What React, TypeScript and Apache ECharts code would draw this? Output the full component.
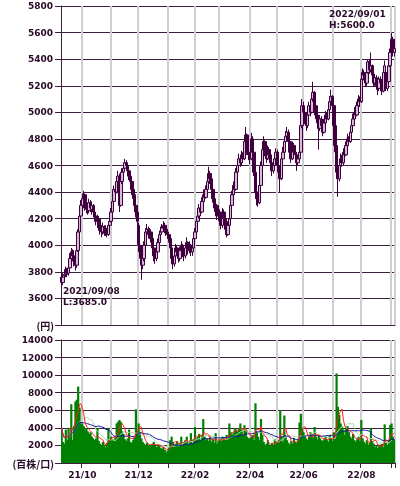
import React, { useEffect, useRef } from "react";
import * as echarts from "echarts";

// [open, close, low, high]
type C = [number, number, number, number];

const sep21: C[] = [
  [3760, 3720, 3685, 3790], [3720, 3760, 3700, 3790], [3770, 3780, 3740, 3820], [3780, 3800, 3760, 3840],
  [3810, 3790, 3760, 3830], [3790, 3830, 3770, 3870], [3830, 3900, 3810, 3940], [3900, 3950, 3870, 3980],
  [3960, 3920, 3890, 3970], [3920, 3880, 3840, 3940], [3890, 3850, 3810, 3900], [3850, 3960, 3830, 3980],
  [3960, 4100, 3950, 4120], [4100, 4220, 4080, 4250], [4220, 4300, 4200, 4340],
];
const oct21: C[] = [
  [4300, 4350, 4280, 4390], [4350, 4380, 4320, 4410], [4380, 4280, 4260, 4390], [4270, 4300, 4240, 4330],
  [4300, 4260, 4230, 4320], [4260, 4320, 4240, 4350], [4320, 4280, 4250, 4340], [4270, 4300, 4230, 4330],
  [4300, 4250, 4210, 4310], [4250, 4220, 4180, 4270], [4220, 4180, 4150, 4240], [4180, 4200, 4130, 4230],
  [4200, 4150, 4110, 4220], [4150, 4120, 4080, 4170], [4120, 4100, 4060, 4150], [4100, 4140, 4080, 4170],
  [4140, 4090, 4070, 4150], [4090, 4120, 4070, 4150], [4120, 4080, 4060, 4130], [4080, 4150, 4070, 4170],
  [4150, 4180, 4130, 4220],
];
const nov21: C[] = [
  [4180, 4250, 4170, 4280], [4250, 4330, 4240, 4360], [4330, 4420, 4320, 4450], [4420, 4400, 4370, 4440],
  [4400, 4480, 4390, 4510], [4480, 4520, 4460, 4560], [4520, 4300, 4250, 4540], [4300, 4480, 4290, 4500],
  [4480, 4550, 4460, 4580], [4550, 4580, 4520, 4620], [4580, 4620, 4560, 4650], [4620, 4600, 4570, 4640],
  [4600, 4560, 4530, 4620], [4560, 4520, 4490, 4580], [4520, 4480, 4440, 4540], [4480, 4420, 4400, 4500],
  [4420, 4380, 4350, 4440], [4380, 4300, 4270, 4400], [4300, 4250, 4210, 4320], [4250, 4180, 4150, 4270],
];
const dec21: C[] = [
  [4150, 4000, 3980, 4170], [4000, 3950, 3900, 4050], [3950, 3850, 3740, 3960], [3850, 3900, 3820, 3940],
  [3900, 4000, 3880, 4030], [4000, 4100, 3990, 4130], [4100, 4120, 4070, 4160], [4120, 4080, 4050, 4140],
  [4080, 4100, 4050, 4130], [4100, 4050, 4020, 4120], [4050, 3980, 3950, 4070], [3980, 3920, 3880, 4000],
  [3920, 3900, 3860, 3950], [3900, 3950, 3880, 3980], [3950, 4020, 3930, 4050], [4020, 4080, 4010, 4110],
  [4080, 4100, 4060, 4140], [4100, 4130, 4080, 4160], [4130, 4150, 4100, 4180], [4150, 4120, 4090, 4170],
  [4120, 4100, 4070, 4140], [4100, 4080, 4050, 4120],
];
const jan22: C[] = [
  [4080, 4050, 4020, 4100], [4050, 3980, 3950, 4060], [3980, 3900, 3870, 3990], [3900, 3860, 3820, 3920],
  [3860, 3920, 3840, 3950], [3920, 3980, 3900, 4010], [3980, 3950, 3920, 4000], [3950, 3900, 3870, 3970],
  [3900, 3960, 3880, 3990], [3960, 4000, 3940, 4030], [4000, 3940, 3910, 4010], [3940, 3920, 3880, 3960],
  [3920, 3980, 3900, 4000], [3980, 4020, 3960, 4060], [4020, 3960, 3930, 4030], [3960, 4000, 3940, 4030],
  [4000, 3950, 3920, 4010], [3950, 3980, 3920, 4010], [3980, 4050, 3960, 4080],
];
const feb22: C[] = [
  [4050, 4100, 4030, 4130], [4100, 4180, 4090, 4210], [4180, 4220, 4150, 4250], [4220, 4280, 4200, 4310],
  [4280, 4250, 4220, 4300], [4250, 4330, 4240, 4360], [4330, 4380, 4310, 4420], [4380, 4360, 4330, 4400],
  [4360, 4420, 4350, 4450], [4420, 4480, 4400, 4510], [4480, 4540, 4470, 4590], [4540, 4500, 4460, 4560],
  [4500, 4420, 4380, 4510], [4420, 4350, 4320, 4430], [4350, 4280, 4250, 4370], [4280, 4300, 4240, 4330],
  [4300, 4220, 4190, 4310], [4220, 4250, 4180, 4280],
];
const mar22: C[] = [
  [4250, 4200, 4170, 4270], [4200, 4150, 4120, 4230], [4150, 4250, 4130, 4280], [4250, 4200, 4170, 4270],
  [4200, 4120, 4090, 4220], [4120, 4080, 4060, 4150], [4080, 4150, 4070, 4180], [4150, 4200, 4130, 4230],
  [4200, 4300, 4190, 4330], [4300, 4380, 4290, 4410], [4380, 4450, 4370, 4480], [4450, 4420, 4390, 4470],
  [4420, 4550, 4410, 4580], [4550, 4600, 4530, 4640], [4600, 4650, 4580, 4690], [4650, 4620, 4590, 4670],
  [4620, 4680, 4600, 4710], [4680, 4650, 4620, 4700], [4650, 4780, 4640, 4810], [4780, 4830, 4760, 4890],
  [4830, 4700, 4680, 4840], [4700, 4680, 4640, 4730],
];
const apr22: C[] = [
  [4680, 4650, 4610, 4700], [4650, 4800, 4640, 4845], [4800, 4700, 4680, 4820], [4700, 4550, 4520, 4710],
  [4550, 4400, 4370, 4560], [4400, 4350, 4300, 4420], [4350, 4320, 4290, 4380], [4320, 4450, 4310, 4470],
  [4450, 4600, 4440, 4630], [4600, 4720, 4590, 4750], [4720, 4780, 4700, 4820], [4780, 4700, 4670, 4790],
  [4700, 4650, 4620, 4720], [4650, 4720, 4640, 4750], [4720, 4680, 4650, 4740], [4680, 4620, 4590, 4700],
  [4620, 4560, 4520, 4640], [4560, 4600, 4540, 4630], [4600, 4650, 4580, 4680], [4650, 4700, 4630, 4730],
];
const may22: C[] = [
  [4700, 4600, 4570, 4720], [4600, 4550, 4510, 4630], [4550, 4500, 4400, 4580], [4500, 4650, 4490, 4680],
  [4650, 4700, 4630, 4740], [4700, 4780, 4690, 4810], [4780, 4820, 4760, 4860], [4820, 4850, 4790, 4890],
  [4850, 4780, 4750, 4870], [4780, 4700, 4670, 4790], [4700, 4650, 4620, 4720], [4650, 4750, 4640, 4780],
  [4750, 4700, 4670, 4770], [4700, 4680, 4640, 4720], [4680, 4620, 4560, 4700], [4620, 4650, 4600, 4680],
  [4650, 4700, 4630, 4740], [4700, 4900, 4690, 4930], [4900, 5050, 4880, 5100],
];
const jun22: C[] = [
  [5050, 5000, 4960, 5080], [5000, 4950, 4910, 5020], [4950, 4900, 4860, 4970], [4900, 4980, 4880, 5010],
  [4980, 5050, 4960, 5080], [5050, 5000, 4970, 5070], [5000, 5100, 4990, 5140], [5100, 5150, 5080, 5230],
  [5150, 5050, 5020, 5160], [5050, 4980, 4950, 5060], [4980, 4920, 4880, 5000], [4920, 4880, 4720, 4940],
  [4880, 4950, 4860, 4980], [4950, 4900, 4870, 4970], [4900, 4850, 4820, 4920], [4850, 4920, 4840, 4950],
  [4920, 4980, 4900, 5010], [4980, 4950, 4920, 5000], [4950, 5020, 4940, 5050], [5020, 5080, 5000, 5120],
  [5080, 5120, 5060, 5170], [5120, 5050, 5020, 5130],
];
const jul22: C[] = [
  [5050, 4900, 4870, 5060], [4900, 4750, 4700, 4910], [4750, 4550, 4500, 4760], [4550, 4500, 4365, 4580],
  [4500, 4600, 4480, 4630], [4600, 4650, 4580, 4690], [4650, 4620, 4590, 4680], [4620, 4700, 4600, 4730],
  [4700, 4680, 4650, 4730], [4680, 4750, 4670, 4780], [4750, 4800, 4730, 4840], [4800, 4780, 4750, 4820],
  [4780, 4850, 4770, 4880], [4850, 4900, 4830, 4940], [4900, 4950, 4880, 4990], [4950, 5000, 4930, 5040],
  [5000, 4980, 4950, 5030], [4980, 5050, 4970, 5080], [5050, 5100, 5030, 5130], [5100, 5080, 5040, 5120],
];
const aug22: C[] = [
  [5080, 5250, 5070, 5290], [5250, 5300, 5230, 5330], [5300, 5280, 5240, 5320], [5280, 5220, 5190, 5300],
  [5220, 5300, 5200, 5330], [5300, 5380, 5290, 5400], [5380, 5320, 5290, 5400], [5320, 5350, 5300, 5450],
  [5350, 5280, 5250, 5360], [5280, 5220, 5190, 5300], [5220, 5260, 5200, 5290], [5260, 5200, 5170, 5280],
  [5200, 5180, 5130, 5220], [5180, 5250, 5160, 5270], [5250, 5220, 5190, 5270], [5220, 5160, 5130, 5240],
  [5160, 5300, 5150, 5330], [5300, 5350, 5290, 5390], [5300, 5180, 5160, 5320], [5180, 5230, 5160, 5250],
  [5230, 5350, 5220, 5380], [5350, 5450, 5340, 5480],
];
const sep22: C[] = [[5450, 5550, 5430, 5600], [5550, 5450, 5420, 5570], [5450, 5480, 5420, 5520]];

// volume (百株)
const volSep21 = [4000, 2400, 2200, 3800, 2600, 4000, 3000, 6700, 2600, 4200, 7000, 7200, 8700, 6300, 4500];
const volOct21 = [4500, 4200, 3800, 4000, 3600, 3300, 3500, 3000, 2800, 2600, 2800, 4000, 2500, 2200, 2000, 2400, 2100, 1800, 2300, 4000, 2600];
const volNov21 = [3000, 2700, 2500, 2900, 4500, 4700, 4900, 4700, 3600, 3300, 2700, 2500, 2800, 3800, 2400, 2300, 2600, 3000, 6100, 3500];
const volDec21 = [4500, 3500, 2800, 2400, 2200, 2000, 2300, 2100, 1900, 2000, 2200, 2400, 2000, 1800, 1900, 2100, 1700, 1600, 1800, 1500, 1200, 1400];
const volJan22 = [1800, 2600, 3000, 2400, 2000, 2200, 2500, 1900, 2300, 3000, 2000, 2400, 2600, 3000, 2000, 2400, 3400, 2200, 2700];
const volFeb22 = [4100, 2800, 3000, 3300, 2600, 3200, 5000, 3000, 2600, 2800, 2500, 3000, 2400, 2700, 2300, 3400, 2200, 2500];
const volMar22 = [2700, 2500, 3000, 2800, 2600, 3200, 2900, 4500, 3500, 3200, 3400, 4000, 3800, 3600, 4000, 4500, 3800, 3200, 4300, 3600, 3000, 2800];
const volApr22 = [2800, 3000, 3200, 2600, 6800, 3500, 3000, 2600, 5000, 3200, 2400, 2000, 2200, 2600, 2100, 1900, 2300, 2000, 2700, 2400];
const volMay22 = [2300, 2600, 6000, 3000, 2400, 5400, 3000, 2600, 2300, 2100, 2500, 2200, 2800, 2400, 2300, 2600, 4600, 5600, 4000];
const volJun22 = [3500, 3000, 2800, 2600, 3000, 3500, 3200, 2900, 4100, 3000, 2700, 3200, 2800, 2600, 2500, 2700, 3000, 2600, 2400, 3200, 2800, 2500];
const volJul22 = [3500, 2800, 10200, 6400, 5500, 4500, 4100, 3800, 3200, 4000, 4200, 3500, 3000, 2800, 3300, 2600, 2400, 2700, 3000, 2500];
const volAug22 = [4900, 2800, 2400, 2200, 2600, 2000, 2300, 4000, 2500, 2200, 1800, 2000, 1700, 2100, 1900, 2200, 1800, 4400, 2300, 2000, 2600, 4300];
const volSep22 = [4500, 3000, 2700];

const monthKeys = ["21/09", "21/10", "21/11", "21/12", "22/01", "22/02", "22/03", "22/04", "22/05", "22/06", "22/07", "22/08", "22/09"];
const monthCandles = [sep21, oct21, nov21, dec21, jan22, feb22, mar22, apr22, may22, jun22, jul22, aug22, sep22];
const monthVolumes = [volSep21, volOct21, volNov21, volDec21, volJan22, volFeb22, volMar22, volApr22, volMay22, volJun22, volJul22, volAug22, volSep22];
const labeledMonths = ["21/10", "21/12", "22/02", "22/04", "22/06", "22/08"];

const TXT = "#2a0a2a";
const DARK = "#3f1f3f";
const GREY = "#cfcfcf";
const FONT = '"DejaVu Sans", sans-serif';

function movingAvg(arr: number[], n: number): number[] {
  return arr.map((_, i) => {
    const s = Math.max(0, i - n + 1);
    let sum = 0;
    for (let k = s; k <= i; k++) sum += arr[k];
    return Math.round(sum / (i - s + 1));
  });
}

export default function App() {
  const ref = useRef<HTMLDivElement>(null);
  useEffect(() => {
    if (!ref.current) return;
    const chart = echarts.init(ref.current, null, { renderer: "svg" });

    const categories: string[] = [];
    const candles: C[] = [];
    const volumes: number[] = [];
    const monthStart = new Set<number>();
    const labelIdx = new Set<number>();
    monthKeys.forEach((key, m) => {
      monthCandles[m].forEach((c, k) => {
        const idx = categories.length;
        if (k === 0 && m > 0) monthStart.add(idx);
        if (k === 0 && labeledMonths.includes(key)) labelIdx.add(idx);
        categories.push(key + "/" + (k + 1));
        candles.push(c);
        volumes.push(monthVolumes[m][k]);
      });
    });
    const ma5 = movingAvg(volumes, 5);
    const ma13 = movingAvg(volumes, 13);
    const ma25 = movingAvg(volumes, 25);

    const splitX = { show: true, interval: (i: number) => monthStart.has(i), lineStyle: { color: GREY, width: 2 } };
    const yLabel = { color: TXT, fontFamily: FONT, fontWeight: "bold" as const, fontSize: 9, margin: 8 };
    const txt = (text: string, x: number, y: number, align = "left", font = `bold 9px ${FONT}`) => ({
      type: "text",
      x,
      y,
      z: 100,
      silent: true,
      style: { text, fill: TXT, font, textAlign: align, textVerticalAlign: "middle", verticalAlign: "middle", align },
    });

    chart.setOption({
      animation: false,
      grid: [
        { left: 61, top: 6, width: 334, height: 319 },
        { left: 61, top: 340, width: 334, height: 123 },
      ],
      xAxis: [
        {
          type: "category", gridIndex: 0, data: categories, boundaryGap: true,
          axisLine: { lineStyle: { color: DARK, width: 1 } },
          axisTick: { show: false }, axisLabel: { show: false }, splitLine: splitX,
        },
        {
          type: "category", gridIndex: 1, data: categories, boundaryGap: true,
          axisLine: { lineStyle: { color: DARK, width: 1 } },
          axisTick: { show: true, interval: (i: number) => monthStart.has(i), length: 5, lineStyle: { color: DARK } },
          axisLabel: {
            interval: (i: number) => labelIdx.has(i),
            formatter: (v: string) => v.slice(0, 5),
            color: TXT, fontFamily: FONT, fontWeight: "bold", fontSize: 9, margin: 7,
          },
          splitLine: splitX,
        },
      ],
      yAxis: [
        {
          type: "value", gridIndex: 0, min: 3400, max: 5800, interval: 200,
          axisLine: { show: true, lineStyle: { color: DARK } },
          axisTick: { show: true, length: 6, lineStyle: { color: DARK } },
          axisLabel: { ...yLabel, formatter: (v: number) => (v === 3400 ? "" : String(v)) },
          splitLine: { lineStyle: { color: DARK, width: 1 } },
        },
        {
          type: "value", gridIndex: 1, min: 0, max: 14000, interval: 2000,
          axisLine: { show: true, lineStyle: { color: DARK } },
          axisTick: { show: true, length: 6, lineStyle: { color: DARK } },
          axisLabel: { ...yLabel, formatter: (v: number) => (v === 0 ? "" : String(v)) },
          splitLine: { lineStyle: { color: DARK, width: 1 } },
        },
      ],
      series: [
        {
          type: "candlestick", xAxisIndex: 0, yAxisIndex: 0, data: candles, barWidth: 3,
          itemStyle: { color: "#d4bcd4", color0: "#400040", borderColor: "#400040", borderColor0: "#400040", borderWidth: 1 },
        },
        {
          type: "bar", xAxisIndex: 1, yAxisIndex: 1, data: volumes, barWidth: 2.2,
          itemStyle: { color: "#008000" },
        },
        { type: "line", xAxisIndex: 1, yAxisIndex: 1, data: ma13, symbol: "none", z: 5, lineStyle: { color: "#a8e0a8", width: 1 } },
        { type: "line", xAxisIndex: 1, yAxisIndex: 1, data: ma25, symbol: "none", z: 5, lineStyle: { color: "#1010a0", width: 1 } },
        { type: "line", xAxisIndex: 1, yAxisIndex: 1, data: ma5, symbol: "none", z: 6, lineStyle: { color: "#ff2020", width: 1 } },
      ],
      graphic: [
        { type: "line", silent: true, shape: { x1: 395, y1: 6, x2: 395, y2: 325 }, style: { stroke: GREY, lineWidth: 2 } },
        { type: "line", silent: true, shape: { x1: 395, y1: 340, x2: 395, y2: 463 }, style: { stroke: GREY, lineWidth: 2 } },
        txt("2022/09/01", 329, 14),
        txt("H:5600.0", 329, 25),
        txt("2021/09/08", 63, 291),
        txt("L:3685.0", 63, 302),
        txt("(円)", 54, 325, "right", `bold 10px "Noto Sans CJK JP", ${FONT}`),
        txt("(百株/口)", 54, 463, "right", `bold 10px "Noto Sans CJK JP", ${FONT}`),
      ],
    });
    return () => chart.dispose();
  }, []);
  return <div ref={ref} style={{ position: "fixed", left: 0, top: 0, width: 400, height: 486 }} />;
}
